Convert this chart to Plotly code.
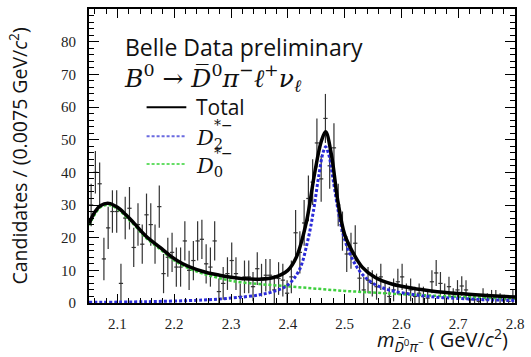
import plotly.graph_objects as go

# ---- data ----
bin_width = 0.0075
x_start = 2.05
counts = [30, 40, 36.5, 13.5, 23, 28, 28, 6, 26, 29,
          17, 24, 18, 27, 24, 18, 29.5, 9, 14, 15.5,
          11, 11, 19, 10, 13, 19, 19.5, 12, 11, 19,
          3.5, 6, 9, 13, 9, 2, 8, 8, 5, 10.5,
          7, 8.5, 8.5, 4, 7.5, 7, 3, 8, 21.5, 15.5,
          24.5, 32, 37, 49, 38, 56.5, 42, 47.5, 30, 22,
          15, 16, 18.3, 7.6, 4, 7, 6, 5, 8, 3,
          2, 4, 6.5, 8, 3, 4, 2, 3, 2, 1.5,
          6.5, 9.2, 6, 3, 5, 2, 4, 5.2, 4, 1,
          1, 0.5, 2.5, 1, 2, 2, 1.5, 1, 0.5, 2]
errors = [6.5, 6.5, 6.5, 6.5, 6.5, 6.5, 6.5, 6, 6.5, 6.5,
          6, 6.5, 6, 6.5, 6.5, 6, 6.5, 6, 6, 6,
          6, 6, 6, 6, 6, 6, 6, 6, 6, 6,
          4, 5, 5, 5.5, 5, 4, 5, 5, 4.5, 5,
          5, 5, 5, 4.5, 5, 5, 4, 5, 7, 6.5,
          7, 7, 7, 7.5, 7, 7.5, 7, 7.5, 6.5, 6,
          5.5, 5.5, 5.5, 4.5, 4, 4, 4, 4, 4, 3.5,
          3, 3.5, 4, 4, 3, 3.5, 3, 3, 3, 2.5,
          3.5, 4, 3.5, 3, 3, 2.5, 3, 3, 3, 2,
          2, 1.5, 2, 2, 2, 2, 1.5, 1.5, 1.5, 2]

total_x = [2.05, 2.06, 2.07, 2.085, 2.10, 2.115, 2.13, 2.15, 2.175, 2.195,
           2.215, 2.24, 2.26, 2.28, 2.30, 2.325, 2.35, 2.375, 2.40, 2.415,
           2.433, 2.447, 2.459, 2.4666, 2.4766, 2.488, 2.50, 2.513, 2.531, 2.554,
           2.583, 2.62, 2.653, 2.70, 2.75, 2.80]
total_y = [24.3, 27.8, 29.8, 30.5, 29.3, 27, 24.3, 20.5, 17, 14.2,
           12, 10.2, 9.2, 8.5, 7.9, 7.4, 7.3, 7.8, 10, 14,
           25, 39.5, 49.5, 52.4, 45.6, 31.3, 21, 16, 11, 7.8,
           5.8, 4.5, 3.7, 2.9, 2.3, 1.8]

d2_x = [2.05, 2.15, 2.25, 2.30, 2.35, 2.38, 2.40, 2.42, 2.435, 2.445,
        2.455, 2.462, 2.4666, 2.472, 2.48, 2.49, 2.50, 2.515, 2.53, 2.55,
        2.58, 2.62, 2.66, 2.70, 2.75, 2.80]
d2_y = [0.2, 0.4, 0.9, 1.5, 2.5, 3.8, 5.5, 10, 19, 28,
        39.5, 46, 47.8, 45.5, 37.5, 27, 19.5, 13, 9, 6,
        3.9, 2.6, 1.8, 1.4, 1.0, 0.8]

d0_x = [2.05, 2.07, 2.085, 2.10, 2.13, 2.15, 2.175, 2.195, 2.215, 2.24,
        2.26, 2.28, 2.30, 2.325, 2.35, 2.40, 2.45, 2.50, 2.55, 2.60,
        2.65, 2.70, 2.75, 2.80]
d0_y = [23.8, 29.3, 30, 28.8, 23.8, 20, 16.5, 13.7, 11.5, 9.6,
        8.5, 7.6, 6.8, 6.2, 5.8, 5.1, 4.4, 3.7, 3.2, 2.7,
        2.3, 1.9, 1.6, 1.3]

x_ticks = [2.1, 2.2, 2.3, 2.4, 2.5, 2.6, 2.7, 2.8]
y_ticks = [0, 10, 20, 30, 40, 50, 60, 70, 80]

bin_centers = [x_start + bin_width * (i + 0.5) for i in range(len(counts))]

BLUE = "#2a2ad8"
GREEN = "#3fcf3f"

fig = go.Figure()
fig.add_trace(go.Scatter(
    x=bin_centers, y=counts, mode="markers",
    marker=dict(size=1, color="#333333"),
    error_y=dict(type="data", array=errors, width=0, thickness=1.2, color="#333333"),
    error_x=dict(type="constant", value=bin_width / 2, width=0, thickness=1.2, color="#333333"),
    showlegend=False, hoverinfo="skip"))
fig.add_trace(go.Scatter(x=d0_x, y=d0_y, mode="lines", line=dict(color=GREEN, width=2.5, dash="3px,2px", shape="spline"), showlegend=False))
fig.add_trace(go.Scatter(x=d2_x, y=d2_y, mode="lines", line=dict(color=BLUE, width=3, dash="3px,2px", shape="spline"), showlegend=False))
fig.add_trace(go.Scatter(x=total_x, y=total_y, mode="lines", line=dict(color="black", width=3.5, shape="spline"), showlegend=False))

W, H = 531, 357
L, R, T, B = 89, 13, 7, 54
pw, ph = W - L - R, H - T - B

def px(xp):
    return (xp - L) / pw

def py(yp):
    return (H - B - yp) / ph

tickfont = dict(family="Liberation Serif, DejaVu Serif, serif", size=15, color="#222")
axis_common = dict(showgrid=False, zeroline=False, showline=True, linecolor="black", linewidth=2,
                   mirror="ticks", ticks="inside", tickcolor="black", tickfont=tickfont)

fig.update_layout(
    width=W, height=H,
    margin=dict(l=L, r=R, t=T, b=B),
    paper_bgcolor="white", plot_bgcolor="white",
    xaxis=dict(range=[2.05, 2.8], tickvals=x_ticks, ticktext=[f"{v:.1f}" for v in x_ticks],
               ticklen=9, tickwidth=1.2, ticklabelstandoff=6,
               minor=dict(ticks="inside", ticklen=5, dtick=0.02, tick0=2.0, tickcolor="black", tickwidth=1),
               **axis_common),
    yaxis=dict(range=[0, 90], tickvals=y_ticks, ticklen=10, tickwidth=1.2, ticklabelstandoff=8,
               minor=dict(ticks="inside", ticklen=5, dtick=2, tickcolor="black", tickwidth=1),
               **axis_common),
)

sans = "Open Sans, Noto Sans, DejaVu Sans, sans-serif"
serif = "DejaVu Serif, Liberation Serif, serif"
ann = []

def add(xp, yp, text, font, size, xanchor="left", **kw):
    ann.append(dict(x=px(xp), y=py(yp), xref="paper", yref="paper", xanchor=xanchor, yanchor="middle",
                    text=text, showarrow=False, font=dict(family=font, size=size, color="#111"), **kw))

add(123, 45, "Belle Data preliminary", sans, 23)
add(122, 76, "<i>B</i><sup>0</sup> \u2192 <i>D\u0305</i><sup>0</sup><i>\u03c0</i><sup>\u2212</sup><i>\u2113</i><sup>+</sup><i>\u03bd</i><sub><i>\u2113</i></sub>",
    serif, 25)
# legend
add(195, 106, "Total", sans, 21)
add(195, 138, "<i>D</i><sub>2</sub>", serif, 21)
add(213, 124, "*\u2212", serif, 14)
add(195, 166, "<i>D</i><sub>0</sub>", serif, 21)
add(213, 152, "*\u2212", serif, 14)
# axis titles
add(513, 340, "<i>m</i><sub><i>D\u0305</i><sup>0</sup><i>\u03c0</i><sup>\u2212</sup></sub> ( GeV/<i>c</i><sup>2</sup>)",
    sans, 20, xanchor="right")
add(17, 155, "Candidates / (0.0075 GeV/<i>c</i><sup>2</sup>)", sans, 19.5, xanchor="center", textangle=-90)
fig.update_layout(annotations=ann)

shapes = [
    dict(type="line", xref="paper", yref="paper", x0=px(147), x1=px(187), y0=py(106), y1=py(106),
         line=dict(color="black", width=2)),
    dict(type="line", xref="paper", yref="paper", x0=px(147), x1=px(187), y0=py(135), y1=py(135),
         line=dict(color="#6a6ae0", width=2, dash="3px,2px")),
    dict(type="line", xref="paper", yref="paper", x0=px(147), x1=px(187), y0=py(163), y1=py(163),
         line=dict(color="#66dd66", width=2, dash="3px,2px")),
]
fig.update_layout(shapes=shapes)

fig.write_html("out.html", config={"displayModeBar": False},
               post_script="document.body.style.margin='0';document.body.style.overflow='hidden';")
